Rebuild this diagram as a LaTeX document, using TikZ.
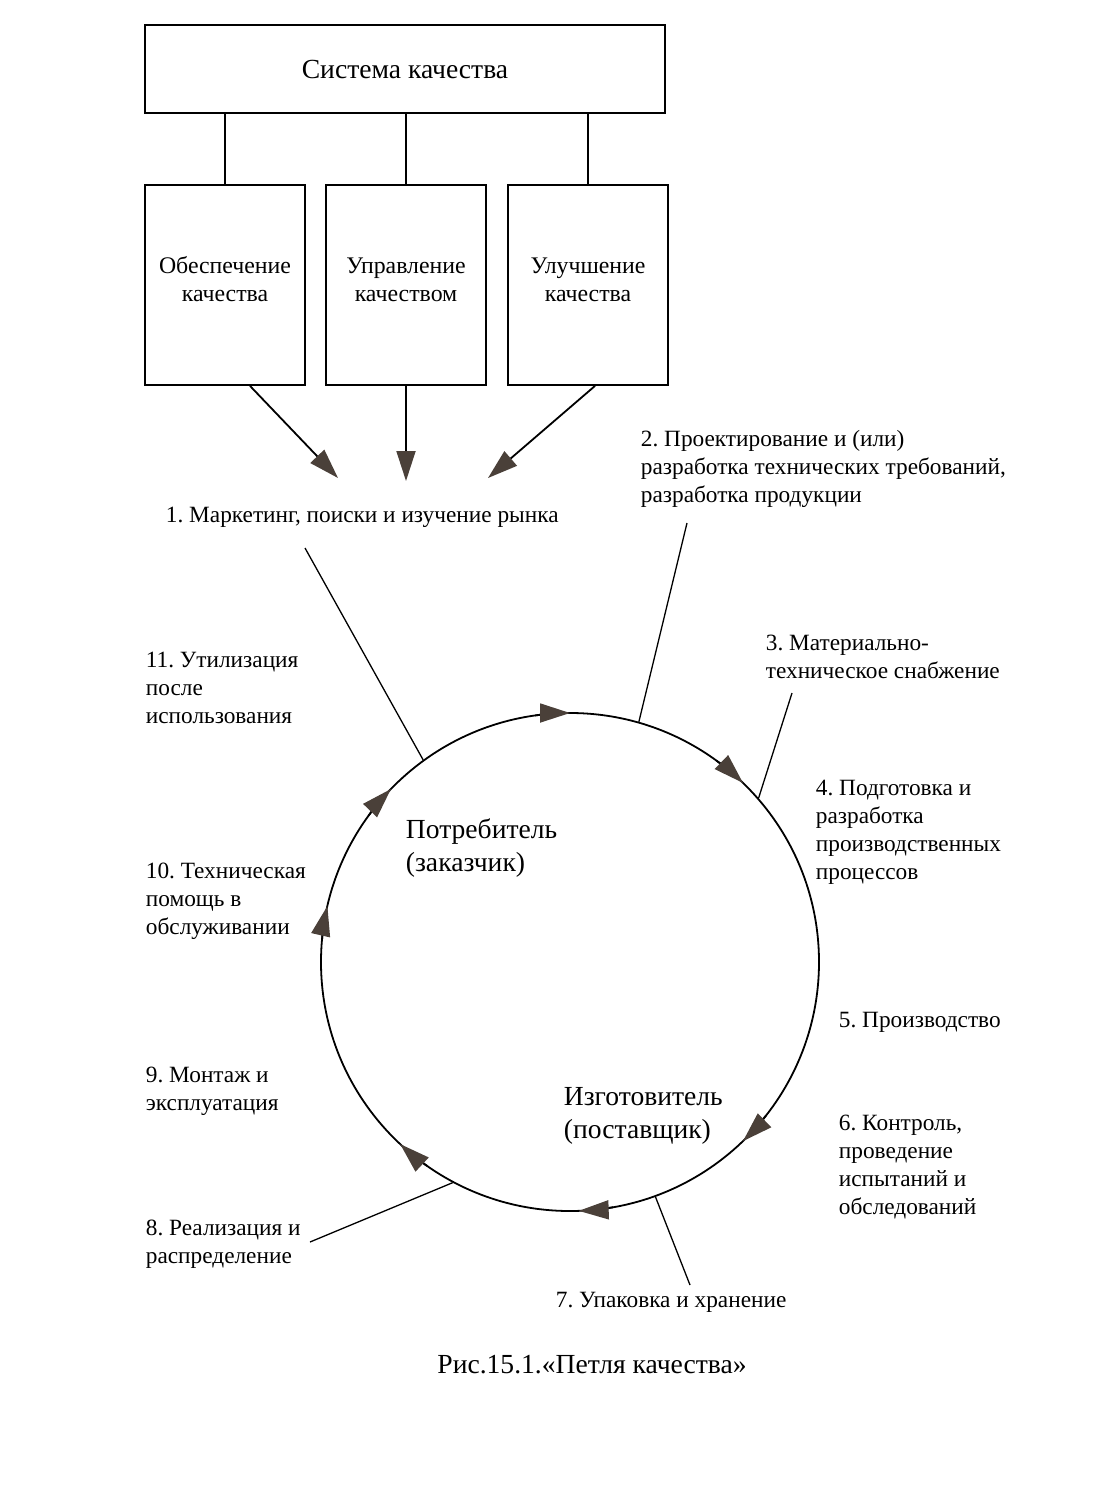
\documentclass[tikz,border=0pt]{standalone}
\usepackage{fontspec}
\setmainfont{Liberation Serif}
\usetikzlibrary{arrows.meta}
\frenchspacing
\definecolor{tipcol}{HTML}{4A4039}
\tikzset{>={Triangle[length=30pt,width=19pt,color=tipcol]},
  every node/.style={font=\fontsize{23.3}{28}\selectfont},
  big/.style={font=\fontsize{27.6}{32.5}\selectfont},
  box/.style={draw,inner sep=0,align=center},
  lbl/.style={anchor=north west,inner sep=0,align=left}}

\begin{document}
\begin{tikzpicture}[x=1pt,y=-1pt,line width=1.8pt]
    \useasboundingbox (0,0) rectangle (1106,1486);
    \node[box,big,minimum width=520,minimum height=88] (sys) at (405,69) {Система качества};
    \foreach \i/\x/\t in {1/225/Обеспечение\\качества,2/406/Управление\\качеством,3/588/Улучшение\\качества}{
    	\node[box,minimum width=160,minimum height=200,font=\fontsize{23.8}{28}\selectfont] (box\i) at (\x,285)
    	     {\raisebox{3pt}[\height][\depth]{\begin{tabular}{@{}c@{}}\t\end{tabular}}};
    	\draw (sys.south -| box\i) -- (box\i);
    }
    \coordinate (m1) at (338,478);
    \coordinate (m2) at (406,481);
    \coordinate (m3) at (488,478);
    \draw[->] ([xshift=25]box1.south) -- (m1);
    \draw[->] (box2.south) -- (m2);
    \draw[->] ([xshift=7]box3.south) -- (m3);
    % the loop
    \node[circle,draw,minimum size=498,inner sep=0] (loop) at (570,962) {};
    \foreach \a in {90,46,-46,-88,-133,167,136}{
    	\draw[->] (loop.center) ++(-\a-8:249) arc[start angle=-\a-8,end angle=-\a,radius=249];
    }
    \node[lbl] (st1) at (165,506) {1. Маркетинг, поиски и изучение рынка};
    \node[lbl] (st2) at (640,429) {2. Проектирование и (или)\\разработка технических требований,\\разработка продукции};
    \node[lbl] (st3) at (765,634) {3. Материально-\\техническое снабжение};
    \node[lbl] (st4) at (815,779) {4. Подготовка и\\разработка\\производственных\\процессов};
    \node[lbl] (st5) at (838,1011) {5. Производство};
    \node[lbl] (st6) at (838,1114) {6. Контроль,\\проведение\\испытаний и\\обследований};
    \node[lbl] (st7) at (555,1291) {7. Упаковка и хранение};
    \node[lbl] (st8) at (145,1219) {8. Реализация и\\распределение};
    \node[lbl] (st9) at (145,1066) {9. Монтаж и\\эксплуатация};
    \node[lbl] (st10) at (145,862) {10. Техническая\\помощь в\\обслуживании};
    \node[lbl] (st11) at (145,651) {11. Утилизация\\после\\использования};
    \node[lbl,big] (cons) at (405,818) {Потребитель\\(заказчик)};
    \node[lbl,big] (manuf) at (563,1087) {Изготовитель\\(поставщик)};
    % leaders
    \foreach \k/\x/\y/\a in {1/305/548/126.3,2/687/523/74.3,3/792/693/41.2,7/690/1285/-70,8/310/1242/-118.7}{
    	\coordinate (l\k) at (\x,\y);
    	\draw[line width=1.3pt] (l\k) -- (loop.\a);
    }
    \node[big] (cap) at (592,1365) {Рис.15.1.«Петля качества»};
\end{tikzpicture}
\end{document}
